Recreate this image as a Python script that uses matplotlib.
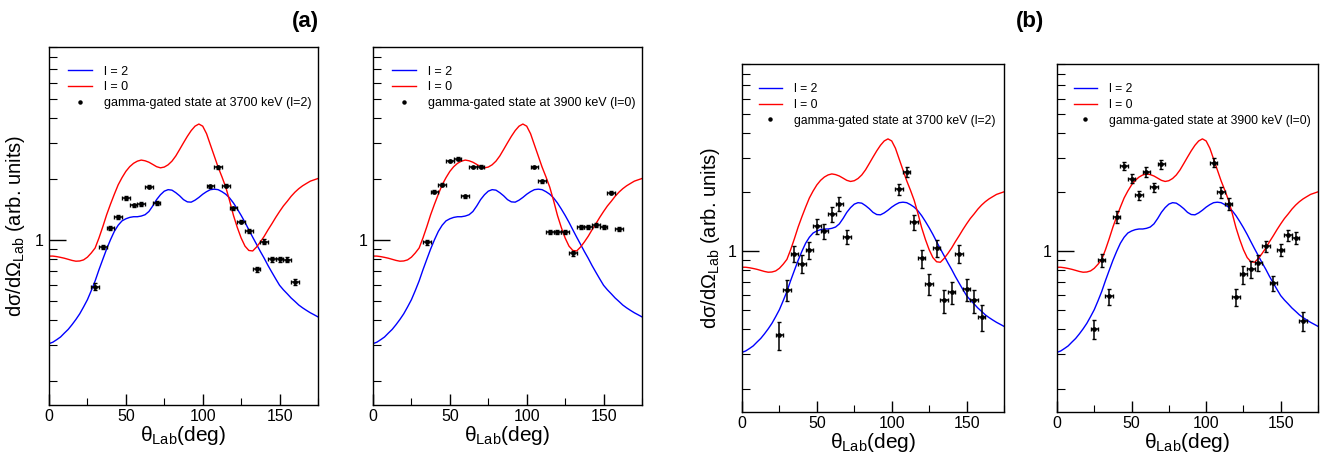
import matplotlib
matplotlib.use('Agg')
import matplotlib.pyplot as plt
from matplotlib.lines import Line2D
from matplotlib.ticker import LogLocator, FixedLocator, FixedFormatter, NullFormatter, MultipleLocator

plt.rcParams['font.family'] = ['Liberation Sans', 'DejaVu Sans']
plt.rcParams['mathtext.fontset'] = 'custom'
plt.rcParams['mathtext.rm'] = 'Liberation Sans'
plt.rcParams['mathtext.it'] = 'Liberation Sans'
plt.rcParams['mathtext.default'] = 'regular'

curve_theta = [0, 2.5, 5, 7.5, 10, 12.5, 15, 17.5, 20, 22.5, 25, 27.5, 30, 32.5, 35,
               37.5, 40, 42.5, 45, 47.5, 50, 52.5, 55, 57.5, 60, 62.5, 65, 67.5, 70,
               72.5, 75, 77.5, 80, 82.5, 85, 87.5, 90, 92.5, 95, 97.5, 100, 102.5,
               105, 107.5, 110, 112.5, 115, 117.5, 120, 122.5, 125, 127.5, 130,
               132.5, 135, 137.5, 140, 142.5, 145, 147.5, 150, 152.5, 155, 157.5,
               160, 162.5, 165, 167.5, 170, 172.5, 175]
l2_curve = [0.306, 0.311, 0.32, 0.33, 0.345, 0.36, 0.38, 0.403, 0.43, 0.465, 0.505,
            0.56, 0.625, 0.71, 0.80, 0.90, 1.0, 1.10, 1.18, 1.24, 1.27, 1.29, 1.30,
            1.30, 1.31, 1.33, 1.38, 1.47, 1.58, 1.67, 1.74, 1.77, 1.76, 1.71, 1.65,
            1.58, 1.54, 1.535, 1.57, 1.62, 1.68, 1.73, 1.77, 1.78, 1.77, 1.73, 1.68,
            1.61, 1.52, 1.42, 1.32, 1.22, 1.12, 1.03, 0.95, 0.875, 0.81, 0.745, 0.69,
            0.64, 0.595, 0.565, 0.54, 0.515, 0.495, 0.475, 0.46, 0.447, 0.435, 0.425,
            0.415]
l0_curve = [0.83, 0.83, 0.825, 0.818, 0.81, 0.80, 0.79, 0.783, 0.785, 0.795, 0.82,
            0.86, 0.91, 1.02, 1.16, 1.33, 1.5, 1.68, 1.87, 2.03, 2.18, 2.3, 2.39,
            2.45, 2.48, 2.46, 2.42, 2.36, 2.3, 2.27, 2.29, 2.35, 2.45, 2.6, 2.8,
            3.02, 3.25, 3.47, 3.65, 3.74, 3.65, 3.35, 2.95, 2.6, 2.29, 2.05, 1.82,
            1.56, 1.32, 1.15, 1.02, 0.93, 0.885, 0.88, 0.92, 0.975, 1.04, 1.12, 1.2,
            1.29, 1.38, 1.47, 1.55, 1.64, 1.72, 1.79, 1.85, 1.9, 1.95, 1.98, 2.01]

# (a) left: 3700 keV
a1_theta = [30, 35, 40, 45, 50, 55, 60, 65, 70, 105, 110, 115, 120, 125, 130, 135,
            140, 145, 150, 155, 160]
a1_val = [0.586, 0.917, 1.146, 1.30, 1.61, 1.48, 1.50, 1.83, 1.52, 1.84, 2.29, 1.85,
          1.43, 1.23, 1.10, 0.714, 0.98, 0.80, 0.80, 0.797, 0.616]
a1_err = [0.025, 0.02, 0.025, 0.03, 0.03, 0.03, 0.03, 0.035, 0.03, 0.035, 0.04, 0.035,
          0.03, 0.025, 0.025, 0.02, 0.025, 0.02, 0.02, 0.02, 0.02]

# (a) right: 3900 keV
a2_theta = [35, 40, 45, 50, 55, 60, 65, 70, 105, 110, 115, 120, 125, 130, 135, 140,
            145, 150, 155, 160]
a2_val = [0.97, 1.73, 1.87, 2.45, 2.52, 1.64, 2.29, 2.30, 2.29, 1.95, 1.09, 1.09,
          1.09, 0.856, 1.16, 1.16, 1.18, 1.16, 1.71, 1.13]
a2_err = [0.03, 0.03, 0.035, 0.035, 0.04, 0.03, 0.035, 0.035, 0.035, 0.035, 0.025,
          0.025, 0.025, 0.025, 0.025, 0.025, 0.025, 0.025, 0.03, 0.025]

# (b) left: 3700 keV
b1_theta = [25, 30, 35, 40, 45, 50, 55, 60, 65, 70, 105, 110, 115, 120, 125, 130,
            135, 140, 145, 150, 155, 160]
b1_val = [0.377, 0.637, 0.973, 0.865, 1.016, 1.35, 1.265, 1.545, 1.746, 1.184, 2.066,
          2.545, 1.406, 0.921, 0.683, 1.036, 0.562, 0.62, 0.973, 0.64, 0.562, 0.465]
b1_err = [0.062, 0.08, 0.095, 0.09, 0.10, 0.12, 0.11, 0.13, 0.14, 0.10, 0.14, 0.16,
          0.12, 0.10, 0.085, 0.10, 0.075, 0.08, 0.10, 0.08, 0.075, 0.07]

# (b) right: 3900 keV
b2_theta = [25, 30, 35, 40, 45, 50, 55, 60, 65, 70, 105, 110, 115, 120, 125, 130,
            135, 140, 145, 150, 155, 160, 165]
b2_val = [0.402, 0.90, 0.589, 1.50, 2.73, 2.35, 1.93, 2.545, 2.115, 2.77, 2.83, 1.995,
          1.75, 0.585, 0.763, 0.809, 0.875, 1.065, 0.689, 1.02, 1.207, 1.17, 0.441]
b2_err = [0.045, 0.07, 0.055, 0.10, 0.13, 0.13, 0.11, 0.14, 0.12, 0.14, 0.15, 0.13,
          0.12, 0.06, 0.08, 0.08, 0.08, 0.07, 0.06, 0.07, 0.08, 0.08, 0.05]

W, H = 1320, 462
fig = plt.figure(figsize=(W / 100, H / 100), dpi=100)


def make_axes(x0, x1, y0, y1):
    return fig.add_axes([x0 / W, 1 - y1 / H, (x1 - x0) / W, (y1 - y0) / H])


# axes, data, legend label, ylabel x (axes frac), legend anchor, legend size
panels = [
    (make_axes(49, 318, 47, 405), a1_theta, a1_val, a1_err,
     'gamma-gated state at 3700 keV (l=2)', -0.082, (0.052, 0.962), 9),
    (make_axes(373, 642, 47, 405), a2_theta, a2_val, a2_err,
     'gamma-gated state at 3900 keV (l=0)', None, (0.052, 0.962), 9),
    (make_axes(742, 1004, 64, 412), b1_theta, b1_val, b1_err,
     'gamma-gated state at 3700 keV (l=2)', -0.076, (0.046, 0.958), 8.7),
    (make_axes(1057, 1318, 64, 412), b2_theta, b2_val, b2_err,
     'gamma-gated state at 3900 keV (l=0)', None, (0.046, 0.958), 8.7),
]

for ax, th, val, err, label, ylab_x, leg_xy, leg_fs in panels:
    ax.plot(curve_theta, l2_curve, color='#0000ff', lw=1.0)
    ax.plot(curve_theta, l0_curve, color='#ff0000', lw=1.0)
    ax.errorbar(th, val, xerr=2.5, yerr=err, fmt='o', ms=2.4, color='black',
                ecolor='black', elinewidth=1.1, capsize=1.3, capthick=1.0)
    ax.set_yscale('log')
    ax.set_xlim(0, 175)
    ax.set_ylim(0.152, 9.0)

    ax.yaxis.set_major_locator(FixedLocator([1]))
    ax.yaxis.set_major_formatter(FixedFormatter(['1']))
    ax.yaxis.set_minor_locator(LogLocator(base=10, subs=range(2, 10)))
    ax.yaxis.set_minor_formatter(NullFormatter())
    ax.xaxis.set_major_locator(MultipleLocator(50))
    ax.xaxis.set_minor_locator(MultipleLocator(25))

    ax.tick_params(axis='both', which='both', direction='in', top=False, right=False)
    ax.tick_params(axis='y', which='major', length=12, width=1, labelsize=11.5, pad=4)
    ax.tick_params(axis='y', which='minor', length=6, width=0.8)
    ax.tick_params(axis='x', which='major', length=8, width=1, labelsize=11.5, pad=3)
    ax.tick_params(axis='x', which='minor', length=5, width=0.8)
    for sp in ax.spines.values():
        sp.set_linewidth(1.0)

    ax.set_xlabel(r'$\theta_{Lab}$(deg)', fontsize=15, labelpad=0)
    if ylab_x is not None:
        ax.set_ylabel(r'd$\sigma$/d$\Omega_{Lab}$ (arb. units)', fontsize=14.5)
        ax.yaxis.set_label_coords(ylab_x, 0.5)

    handles = [Line2D([], [], color='#0000ff', lw=1.0),
               Line2D([], [], color='#ff0000', lw=1.0),
               Line2D([], [], color='black', marker='o', ms=2.2, ls='none')]
    ax.legend(handles, ['l = 2', 'l = 0', label], loc='upper left',
              bbox_to_anchor=leg_xy, frameon=False, fontsize=leg_fs,
              handlelength=1.9, handletextpad=1.0, labelspacing=0.3,
              borderaxespad=0)

fig.text(305 / W, 1 - 22 / H, '(a)', fontsize=16, fontweight='bold',
         ha='center', va='center')
fig.text(1030 / W, 1 - 22 / H, '(b)', fontsize=16, fontweight='bold',
         ha='center', va='center')

fig.savefig('out.png', dpi=100)
